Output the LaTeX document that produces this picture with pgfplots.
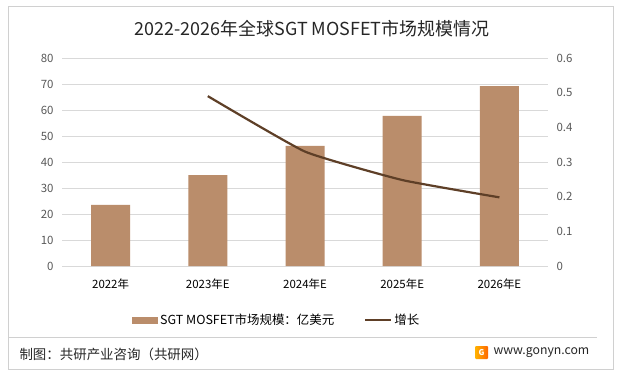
\documentclass[border=0pt]{standalone}
\usepackage{pgfplots}
\pgfplotsset{compat=1.18}
\usepackage{fontspec}
\setmainfont{Noto Sans CJK SC}
\definecolor{barc}{HTML}{BA8D6B}
\definecolor{linec}{HTML}{5E3F27}
\definecolor{tickc}{HTML}{595959}
\definecolor{gridc}{HTML}{D9D9D9}
\definecolor{framec}{HTML}{D0D0D0}
\begin{document}
\begin{tikzpicture}[x=1bp,y=1bp]
\fill[white] (0,0) rectangle (621,377);
\draw[framec, line width=1bp] (8,8) rectangle (613,370);
\node[font=\fontsize{18}{21}\selectfont, text=black!85] at (312,348) {2022-2026年全球SGT MOSFET市场规模情况};
\begin{axis}[
  at={(62bp,111bp)}, anchor=south west, scale only axis,
  width=486bp, height=208bp,
  xmin=-0.5, xmax=4.5, ymin=0, ymax=80,
  ytick={0,10,20,30,40,50,60,70,80},
  xtick={0,1,2,3,4},
  xticklabels={2022年,2023年E,2024年E,2025年E,2026年E},
  axis line style={draw=none}, tick style={draw=none},
  ymajorgrids, grid style={gridc, line width=0.8bp},
  ticklabel style={font=\fontsize{11.5}{13}\selectfont, text=tickc},
  xticklabel style={text=black, yshift=-9bp},
  yticklabel style={xshift=-5bp},
  /pgf/number format/assume math mode=true,
  legend style={at={(0.442,-0.26)}, anchor=center, draw=none, fill=none,
    font=\fontsize{12.5}{14}\selectfont, legend columns=2,
    /tikz/every even column/.append style={column sep=28bp}},
]
\addplot[ybar, bar width=39bp, fill=barc, draw=none, bar shift=0pt,
  legend image code/.code={\fill[barc] (0bp,-3.5bp) rectangle (26bp,3.5bp);}]
  coordinates {(0,23.5) (1,35.0) (2,46.2) (3,57.7) (4,69.2)};
\addlegendentry{SGT MOSFET市场规模：亿美元}
\addlegendimage{legend image code/.code={\draw[linec, line width=2.2bp] (0bp,0bp) -- (26bp,0bp);}}
\addlegendentry{增长}
\end{axis}
\begin{axis}[
  at={(62bp,111bp)}, anchor=south west, scale only axis,
  width=486bp, height=208bp,
  xmin=-0.5, xmax=4.5, ymin=0, ymax=0.6,
  axis y line*=right, axis x line=none,
  ytick={0,0.1,0.2,0.3,0.4,0.5,0.6},
  axis line style={draw=none}, tick style={draw=none},
  ticklabel style={font=\fontsize{11.5}{13}\selectfont, text=tickc},
  yticklabel style={xshift=5bp},
  /pgf/number format/assume math mode=true,
  /pgf/number format/fixed,
]
\addplot[linec, line width=2.2bp, mark=none, smooth, tension=0.25]
  coordinates {(1,0.49) (2,0.33) (3,0.248) (4,0.198)};
\end{axis}
\draw[framec, line width=0.8bp] (8,40) -- (597,40);
\node[anchor=west, font=\fontsize{13.5}{15}\selectfont, text=black!85] at (16,23) {制图：共研产业咨询（共研网）};
\shade[left color=orange!60!yellow, right color=orange!80!red, rounded corners=1bp] (475,18) rectangle (488,31);
\node[white, font=\bfseries\fontsize{8}{9}\selectfont] at (481.5,24.5) {G};
\node[anchor=west, font=\fontsize{12.3}{14}\selectfont, text=black!85] at (490,24) {www.gonyn.com};
\end{tikzpicture}
\end{document}
